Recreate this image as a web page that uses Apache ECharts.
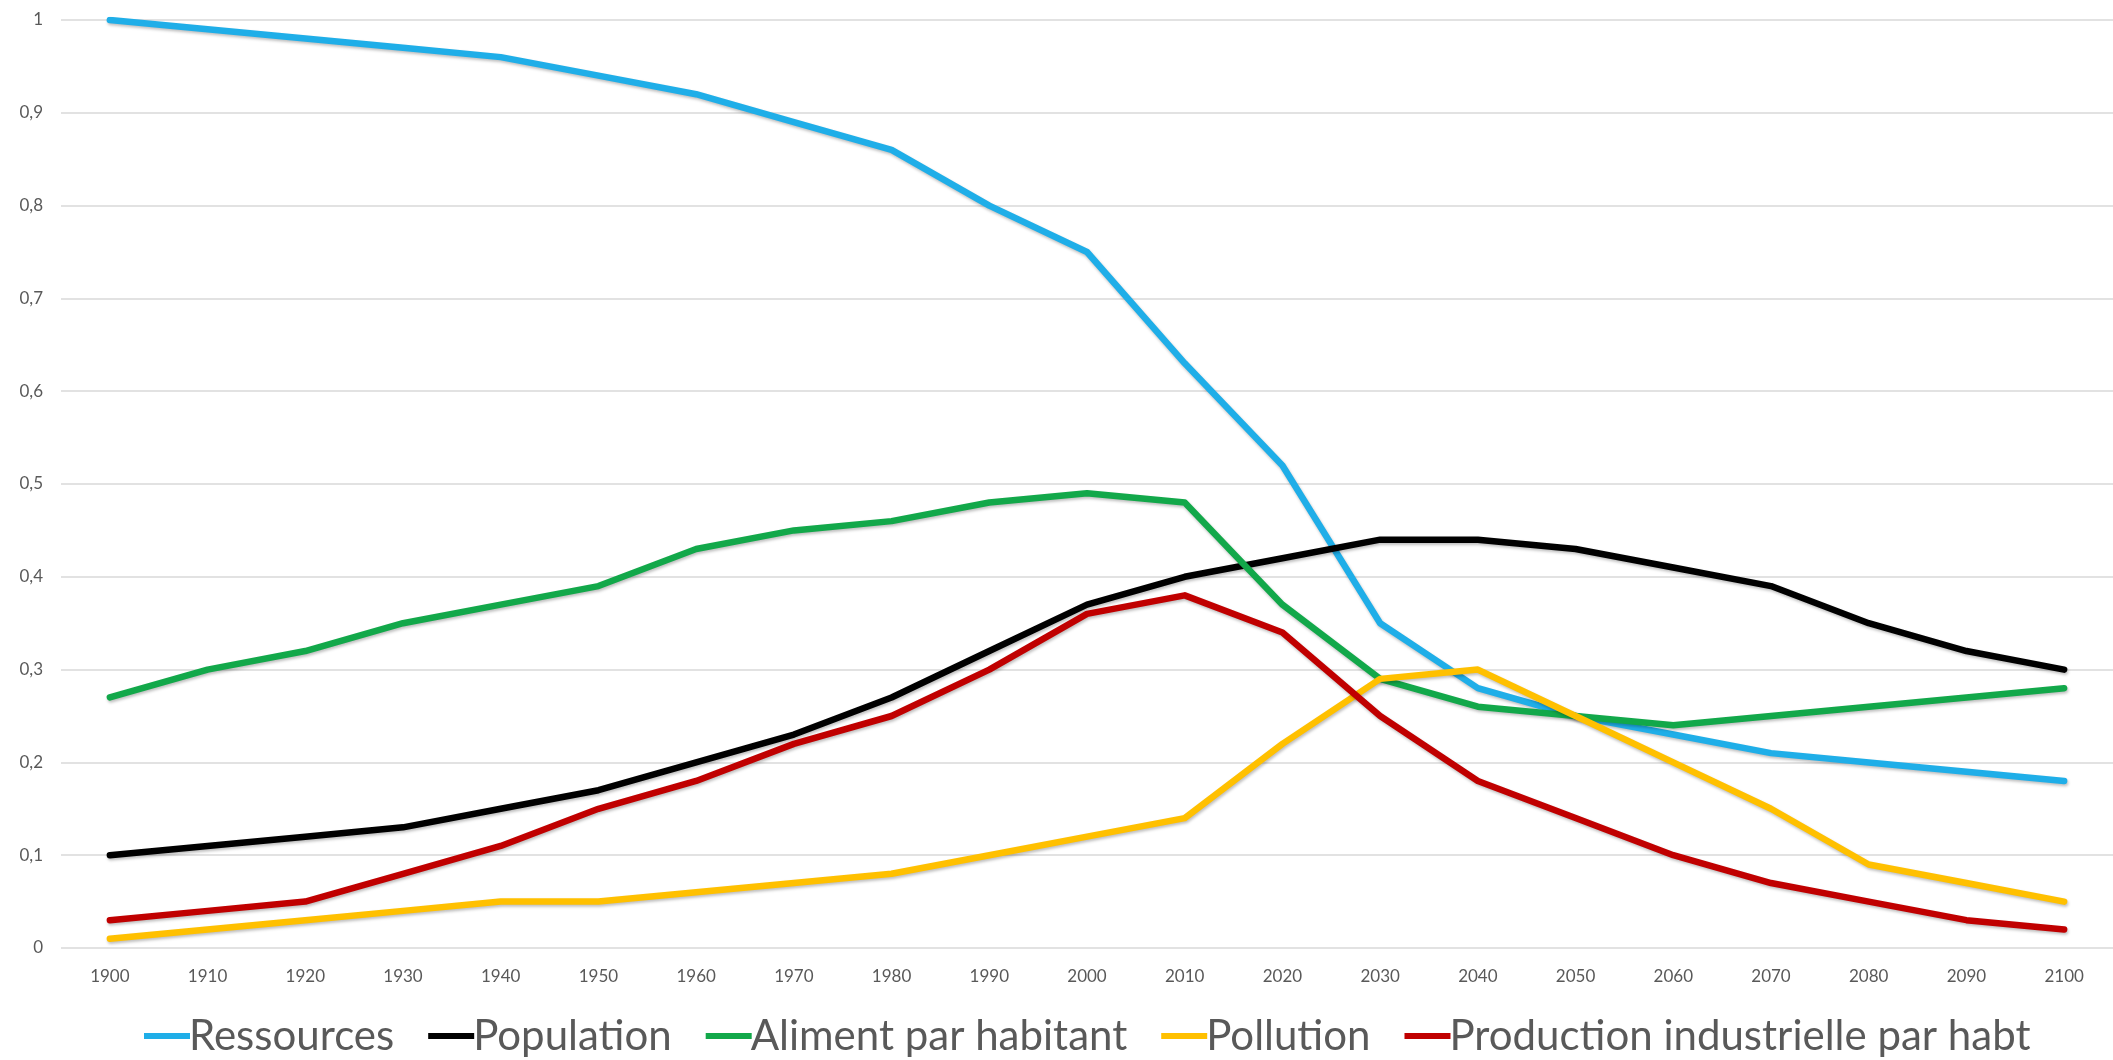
<!DOCTYPE html>
<html>
<head>
<meta charset="utf-8">
<style>
html,body{margin:0;padding:0;background:#fff;}
#chart{width:2113px;height:1060px;}
</style>
<script src="https://cdn.jsdelivr.net/npm/echarts@6/dist/echarts.min.js"></script>
</head>
<body>
<div id="chart"></div>
<script>
var years = ['1900','1910','1920','1930','1940','1950','1960','1970','1980','1990','2000','2010','2020','2030','2040','2050','2060','2070','2080','2090','2100'];
var ressources = [1.0,0.99,0.98,0.97,0.96,0.94,0.92,0.89,0.86,0.80,0.75,0.63,0.52,0.35,0.28,0.25,0.23,0.21,0.20,0.19,0.18];
var population = [0.10,0.11,0.12,0.13,0.15,0.17,0.20,0.23,0.27,0.32,0.37,0.40,0.42,0.44,0.44,0.43,0.41,0.39,0.35,0.32,0.30];
var aliment = [0.27,0.30,0.32,0.35,0.37,0.39,0.43,0.45,0.46,0.48,0.49,0.48,0.37,0.29,0.26,0.25,0.24,0.25,0.26,0.27,0.28];
var pollution = [0.01,0.02,0.03,0.04,0.05,0.05,0.06,0.07,0.08,0.10,0.12,0.14,0.22,0.29,0.30,0.25,0.20,0.15,0.09,0.07,0.05];
var production = [0.03,0.04,0.05,0.08,0.11,0.15,0.18,0.22,0.25,0.30,0.36,0.38,0.34,0.25,0.18,0.14,0.10,0.07,0.05,0.03,0.02];
var seriesNames = ['Ressources','Population','Aliment par habitant','Pollution','Production industrielle par habt'];
var seriesColors = ['#1FAEE8','#000000','#12A84A','#FFC000','#C00000'];
var seriesData = [ressources, population, aliment, pollution, production];

var chart = echarts.init(document.getElementById('chart'));
var FONT = 'Lato, "Liberation Sans", sans-serif';
chart.setOption({
  animation: false,
  backgroundColor: '#ffffff',
  grid: {left: 61, right: -13, top: 20, bottom: 112, containLabel: false},
  legend: {
    bottom: -2,
    left: 139,
    itemWidth: 46,
    itemHeight: 6,
    itemGap: 34,
    icon: 'rect',
    textStyle: {fontFamily: FONT, fontSize: 42, color: '#595959', padding: [0,0,0,-6]},
    data: seriesNames
  },
  xAxis: {
    type: 'category',
    data: years,
    boundaryGap: true,
    axisLine: {show: false},
    axisTick: {show: false},
    axisLabel: {fontFamily: FONT, fontSize: 17, color: '#595959', margin: 20}
  },
  yAxis: {
    type: 'value',
    min: 0, max: 1, interval: 0.1,
    axisLine: {show: false},
    axisTick: {show: false},
    splitLine: {lineStyle: {color: '#D9D9D9', width: 1.5}},
    axisLabel: {
      fontFamily: FONT, fontSize: 17, color: '#595959', margin: 18,
      formatter: function (v) { return String(Math.round(v * 10) / 10).replace('.', ','); }
    }
  },
  series: seriesNames.map(function (n, i) {
    return {
      name: n,
      type: 'line',
      data: seriesData[i],
      symbol: 'none',
      color: seriesColors[i],
      lineStyle: {width: 6.5, color: seriesColors[i], shadowColor: 'rgba(0,0,0,0.25)', shadowBlur: 3, shadowOffsetX: 1, shadowOffsetY: 2, cap: 'round', join: 'round'}
    };
  })
});
</script>
</body>
</html>
